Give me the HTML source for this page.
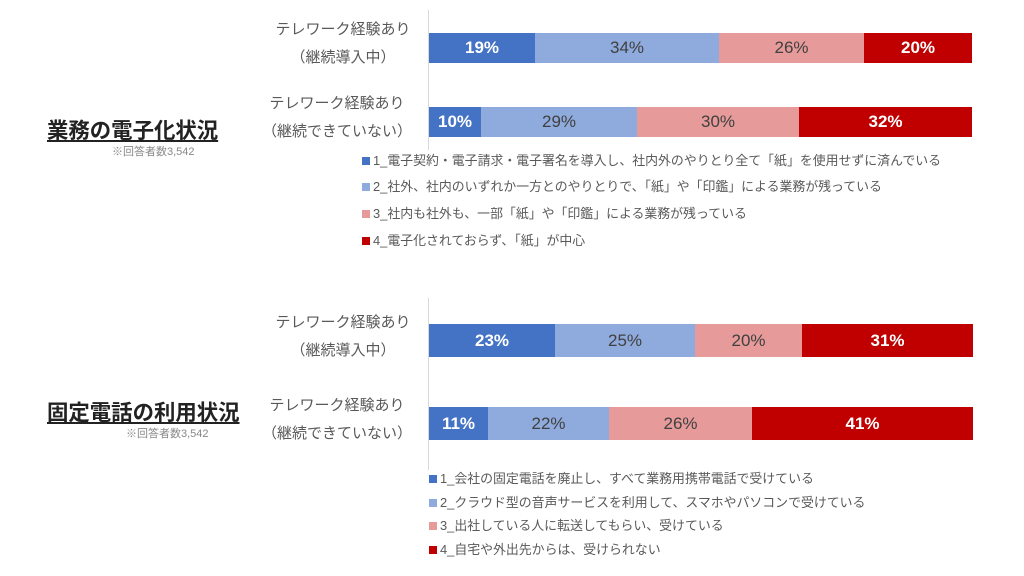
<!DOCTYPE html>
<html><head><meta charset="utf-8"><style>
body{margin:0;width:1024px;height:576px;background:#fff;position:relative;overflow:hidden;font-family:"Liberation Sans","Noto Sans CJK JP",sans-serif;color:#595959}
.bar{position:absolute;height:30px;display:flex}
.bar div{height:100%;display:flex;align-items:center;justify-content:center;font-size:17px}
.c1{background:#4472c4;color:#fff;font-weight:bold}
.c2{background:#8faadc;color:#404040}
.c3{background:#e69a9a;color:#404040}
.c4{background:#c00000;color:#fff;font-weight:bold}
.cat{position:absolute;font-size:15px;text-align:center;width:170px;line-height:28px}
.lg{position:absolute;font-size:12.9px;line-height:14px;white-space:nowrap}
.lg span{display:inline-block;width:8px;height:8px;margin-right:3px;vertical-align:0px}
.t{position:absolute;font-size:21.4px;font-weight:bold;color:#222;text-decoration:underline;white-space:nowrap}
.n{position:absolute;font-size:11px;color:#888;white-space:nowrap}
.ax{position:absolute;width:1px;background:#d9d9d9}
</style></head><body>
<div class="ax" style="left:428px;top:10px;height:140px"></div>
<div class="ax" style="left:428px;top:298px;height:172px"></div>

<div class="cat" style="left:258px;top:16px">テレワーク経験あり<br>（継続導入中）</div>
<div class="cat" style="left:252px;top:90px">テレワーク経験あり<br>（継続できていない）</div>
<div class="bar" style="left:429px;top:33px;width:543px"><div class="c1" style="width:106px">19%</div><div class="c2" style="width:184px">34%</div><div class="c3" style="width:145px">26%</div><div class="c4" style="width:108px">20%</div></div>
<div class="bar" style="left:429px;top:107px;width:543px"><div class="c1" style="width:52px">10%</div><div class="c2" style="width:156px">29%</div><div class="c3" style="width:162px">30%</div><div class="c4" style="width:173px">32%</div></div>

<div class="t" style="left:47px;top:114px">業務の電子化状況</div>
<div class="n" style="left:112px;top:143px">※回答者数3,542</div>

<div class="lg" style="left:362px;top:154px"><span style="background:#4472c4"></span>1_電子契約・電子請求・電子署名を導入し、社内外のやりとり全て「紙」を使用せずに済んでいる</div>
<div class="lg" style="left:362px;top:180px"><span style="background:#8faadc"></span>2_社外、社内のいずれか一方とのやりとりで、「紙」や「印鑑」による業務が残っている</div>
<div class="lg" style="left:362px;top:207px"><span style="background:#e69a9a"></span>3_社内も社外も、一部「紙」や「印鑑」による業務が残っている</div>
<div class="lg" style="left:362px;top:234px"><span style="background:#c00000"></span>4_電子化されておらず、「紙」が中心</div>

<div class="cat" style="left:258px;top:309px">テレワーク経験あり<br>（継続導入中）</div>
<div class="cat" style="left:252px;top:392px">テレワーク経験あり<br>（継続できていない）</div>
<div class="bar" style="left:429px;top:324px;width:544px;height:33px"><div class="c1" style="width:126px">23%</div><div class="c2" style="width:140px">25%</div><div class="c3" style="width:107px">20%</div><div class="c4" style="width:171px">31%</div></div>
<div class="bar" style="left:429px;top:407px;width:544px;height:33px"><div class="c1" style="width:59px">11%</div><div class="c2" style="width:121px">22%</div><div class="c3" style="width:143px">26%</div><div class="c4" style="width:221px">41%</div></div>

<div class="t" style="left:47px;top:396px">固定電話の利用状況</div>
<div class="n" style="left:126px;top:425px">※回答者数3,542</div>

<div class="lg" style="left:429px;top:472px"><span style="background:#4472c4"></span>1_会社の固定電話を廃止し、すべて業務用携帯電話で受けている</div>
<div class="lg" style="left:429px;top:496px"><span style="background:#8faadc"></span>2_クラウド型の音声サービスを利用して、スマホやパソコンで受けている</div>
<div class="lg" style="left:429px;top:519px"><span style="background:#e69a9a"></span>3_出社している人に転送してもらい、受けている</div>
<div class="lg" style="left:429px;top:543px"><span style="background:#c00000"></span>4_自宅や外出先からは、受けられない</div>
</body></html>
